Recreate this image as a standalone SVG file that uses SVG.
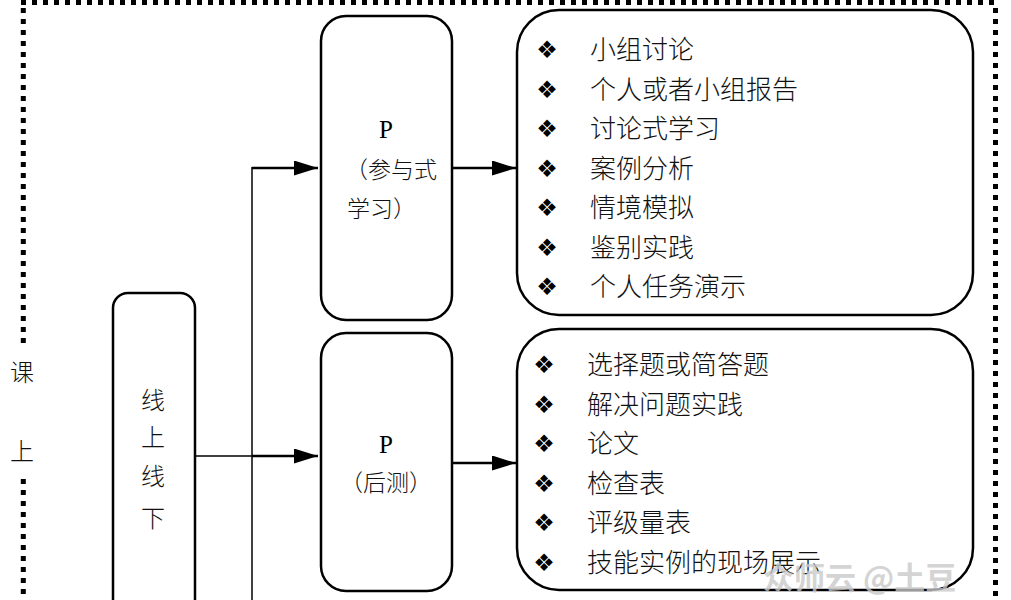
<svg xmlns="http://www.w3.org/2000/svg" width="1011" height="600" viewBox="0 0 1011 600">
<style>
.dot{fill:none;stroke:#000;stroke-width:5;stroke-dasharray:5 6}
.box{fill:#fff;stroke:#000;stroke-width:2.5}
.cjk{font-family:"Liberation Serif","Noto Sans CJK SC",serif;font-size:24px;fill:#111}
.lat{font-family:"Liberation Serif",serif;font-size:25px;fill:#000}
.item{font-family:"Noto Sans CJK SC",sans-serif;font-size:26px;fill:#111;font-weight:300}
.pt{font-family:"Noto Sans CJK SC",sans-serif;font-size:23px;fill:#111;font-weight:300}
.bul{font-family:"DejaVu Sans",sans-serif;font-size:24px;fill:#000;text-anchor:middle}
.thin{fill:none;stroke:#000;stroke-width:1.5}
.thick{fill:none;stroke:#000;stroke-width:2.5}
</style>
<defs>
<marker id="arr" viewBox="0 0 24 15" refX="24" refY="7.5" markerWidth="24" markerHeight="15" markerUnits="userSpaceOnUse" orient="auto">
<path d="M0,0 L24,7.5 L0,15 z" fill="#000"/>
</marker>
</defs>
<rect width="1011" height="600" fill="#fff"/>
<g id="border">
<path class="dot" d="M21,2.5 H998"/>
<path class="dot" d="M23.3,8 V345"/>
<path class="dot" d="M23.3,479 V600"/>
<path class="dot" d="M995.5,8 V600"/>
<text class="cjk" x="22" y="381" text-anchor="middle" font-weight="300">课</text>
<text class="cjk" x="22" y="460" text-anchor="middle" font-weight="300">上</text>
</g>
<g id="connectors">
<line class="thin" x1="252" y1="167" x2="252" y2="600"/>
<line class="thick" x1="252" y1="168" x2="318" y2="168" marker-end="url(#arr)"/>
<line class="thin" x1="195" y1="456" x2="252" y2="456"/>
<line class="thick" x1="252" y1="456" x2="318" y2="456" marker-end="url(#arr)"/>
<line class="thick" x1="452" y1="168" x2="516" y2="168" marker-end="url(#arr)"/>
<line class="thick" x1="452" y1="463" x2="516" y2="463" marker-end="url(#arr)"/>
</g>
<g id="node-online-offline">
<rect class="box" x="113" y="293" width="82" height="340" rx="15"/>
<text class="cjk" x="153" y="409" text-anchor="middle" font-weight="300">线</text>
<text class="cjk" x="153" y="446" text-anchor="middle" font-weight="300">上</text>
<text class="cjk" x="153" y="485" text-anchor="middle" font-weight="300">线</text>
<text class="cjk" x="153" y="527" text-anchor="middle" font-weight="300">下</text>
</g>
<g id="node-p1">
<rect class="box" x="321" y="16" width="131" height="304" rx="25"/>
<text class="lat" x="386" y="138" text-anchor="middle">P</text>
<text class="pt" x="345" y="178">（参与式</text>
<text class="pt" x="347" y="217">学习）</text>
</g>
<g id="node-p2">
<rect class="box" x="321" y="333" width="131" height="258" rx="25"/>
<text class="lat" x="386" y="453" text-anchor="middle">P</text>
<text class="pt" x="386" y="491" text-anchor="middle">（后测）</text>
</g>
<g id="node-list1">
<rect class="box" x="517" y="10" width="456" height="305" rx="42"/>
<g>
<text class="bul" x="547" y="58">❖</text>
<text class="bul" x="547" y="97.5">❖</text>
<text class="bul" x="547" y="137">❖</text>
<text class="bul" x="547" y="176.5">❖</text>
<text class="bul" x="547" y="216">❖</text>
<text class="bul" x="547" y="255.5">❖</text>
<text class="bul" x="547" y="295">❖</text>
</g>
<text class="item" x="590" y="59">小组讨论</text>
<text class="item" x="590" y="98.5">个人或者小组报告</text>
<text class="item" x="590" y="138">讨论式学习</text>
<text class="item" x="590" y="177.5">案例分析</text>
<text class="item" x="590" y="217">情境模拟</text>
<text class="item" x="590" y="256.5">鉴别实践</text>
<text class="item" x="590" y="296">个人任务演示</text>
</g>
<g id="node-list2">
<rect class="box" x="517" y="329" width="456" height="261" rx="42"/>
<g>
<text class="bul" x="544" y="373">❖</text>
<text class="bul" x="544" y="412.5">❖</text>
<text class="bul" x="544" y="452">❖</text>
<text class="bul" x="544" y="491.5">❖</text>
<text class="bul" x="544" y="531">❖</text>
<text class="bul" x="544" y="570.5">❖</text>
</g>
<text class="item" x="587" y="374">选择题或简答题</text>
<text class="item" x="587" y="413.5">解决问题实践</text>
<text class="item" x="587" y="453">论文</text>
<text class="item" x="587" y="492.5">检查表</text>
<text class="item" x="587" y="532">评级量表</text>
<text class="item" x="587" y="571.5">技能实例的现场展示</text>
</g>
<text x="763" y="589" font-family="Noto Sans CJK SC,sans-serif" font-size="31" font-weight="700" fill="#c8c8c8" fill-opacity="0.8">众师云 @土豆</text>
</svg>
